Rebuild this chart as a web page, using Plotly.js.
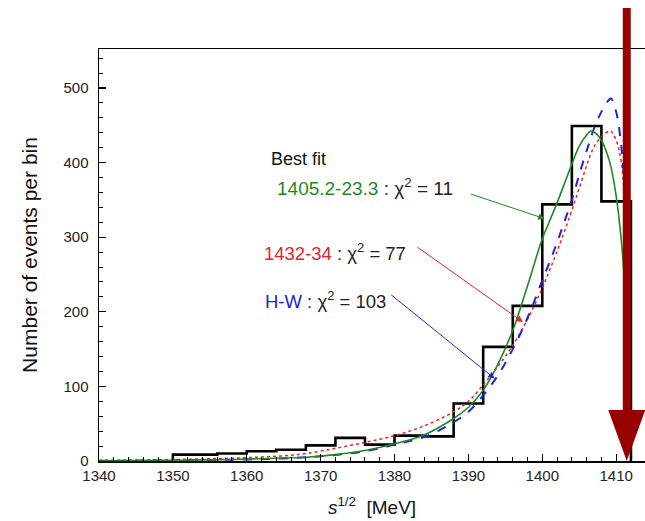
<!DOCTYPE html>
<html>
<head>
<meta charset="utf-8">
<script src="https://cdn.plot.ly/plotly-3.0.1.min.js"></script>
<style>html,body{margin:0;padding:0;background:#fff;}#chart{width:645px;height:521px;}</style>
</head>
<body>
<div id="chart"></div>
<script>
// Histogram (events per bin)
const binEdges = [1350, 1356, 1360, 1364, 1368, 1372, 1376, 1380, 1384, 1388, 1392, 1396, 1400, 1404, 1408, 1412];
const binCounts = [8.5, 10, 13, 15, 21, 31, 22, 34, 33, 77, 153, 208, 344, 449, 348];

// Fit curves sampled at these energies (MeV)
const curveX = [1340, 1345, 1350, 1355, 1360, 1365, 1368, 1372, 1376, 1380, 1384, 1388, 1390, 1392, 1394, 1396, 1398, 1400, 1401, 1402, 1403, 1404, 1405, 1406, 1406.5, 1407, 1408, 1409, 1409.3, 1410, 1410.7, 1411.2];
const greenFit = [0.3, 0.6, 1, 1.5, 2.5, 4, 5, 8.5, 14, 23, 35, 57, 72, 95, 130, 175, 235, 298, 322, 346, 372, 398, 422, 437, 442, 441, 430, 405, 394, 355, 295, 230];
const redFit   = [0.8, 1.3, 2, 3, 4.5, 7, 10, 17, 25, 34, 47, 66, 80, 102, 127, 155, 190, 232, 256, 281, 308, 336, 366, 396, 410, 421, 435, 442, 442, 430, 400, 340];
const blueFit  = [0.3, 0.5, 1, 1.5, 2, 3.5, 5, 8, 13, 22, 32, 52, 66, 88, 115, 150, 192, 242, 267, 293, 321, 350, 384, 416, 431, 446, 468, 484, 486, 468, 421, 360];

const arrowX = 1411.43;
const xTickVals = [1340, 1350, 1360, 1370, 1380, 1390, 1400, 1410];
const yTickVals = [0, 100, 200, 300, 400, 500];

const GREEN = '#1e8a1e', RED = '#e8222a', BLUE = '#2323d6', DARKRED = '#990000';
const FONT = 'Liberation Sans, Arial, sans-serif';

// Build step outline of histogram
const hx = [binEdges[0]], hy = [0];
for (let i = 0; i < binCounts.length; i++) { hx.push(binEdges[i]); hy.push(binCounts[i]); }
hx.push(binEdges[binEdges.length - 1]); hy.push(0);

const traces = [
  {x: hx, y: hy, type: 'scatter', mode: 'lines', line: {shape: 'hv', color: '#000', width: 2.6}, hoverinfo: 'skip'},
  {x: curveX, y: redFit, type: 'scatter', mode: 'lines', line: {color: RED, width: 1.5, dash: 'dot', shape: 'spline'}},
  {x: curveX, y: blueFit, type: 'scatter', mode: 'lines', line: {color: BLUE, width: 2, dash: 'dash', shape: 'spline'}},
  {x: curveX, y: greenFit, type: 'scatter', mode: 'lines', line: {color: GREEN, width: 1.6, shape: 'spline'}}
];

const layout = {
  width: 645, height: 521,
  margin: {l: 99, r: 0, t: 49, b: 60},
  paper_bgcolor: '#fff', plot_bgcolor: '#fff',
  showlegend: false,
  font: {family: FONT, color: '#222'},
  xaxis: {
    range: [1340, 1413.9], tickvals: xTickVals, ticks: 'inside', ticklen: 7, tickwidth: 1.2, tickcolor: '#000',
    minor: {dtick: 2, ticks: 'inside', ticklen: 4, tickwidth: 1, tickcolor: '#000'},
    showline: true, linecolor: '#000', linewidth: 1.5, mirror: true, showgrid: false, zeroline: false,
    tickfont: {size: 15, family: FONT, color: '#222'},
    title: {text: '<i>s</i><sup>1/2</sup>  [MeV]', font: {size: 19, family: FONT, color: '#111'}, standoff: 18}
  },
  yaxis: {
    range: [0, 552.3], tickvals: yTickVals, ticks: 'inside', ticklen: 7, tickwidth: 1.2, tickcolor: '#000',
    minor: {dtick: 20, ticks: 'inside', ticklen: 4, tickwidth: 1, tickcolor: '#000'},
    showline: true, linecolor: '#000', linewidth: 1.5, mirror: false, showgrid: false, zeroline: false,
    tickfont: {size: 15, family: FONT, color: '#222'}, ticklabelstandoff: 6,
    title: {text: 'Number of events per bin', font: {size: 21, family: FONT, color: '#111'}, standoff: 20}
  },
  annotations: [
    {xref: 'paper', yref: 'paper', x: 0.3114, y: 0.733, xanchor: 'left', yanchor: 'middle', showarrow: false,
     text: 'Best fit', font: {size: 18, family: FONT, color: '#111'}},
    {xref: 'paper', yref: 'paper', x: 0.3223, y: 0.665, xanchor: 'left', yanchor: 'middle', showarrow: false,
     text: '<span style="color:' + GREEN + '">1405.2-23.3</span> : χ<sup>2</sup> = 11', font: {size: 19, family: FONT, color: '#222'}},
    {xref: 'paper', yref: 'paper', x: 0.298, y: 0.508, xanchor: 'left', yanchor: 'middle', showarrow: false,
     text: '<span style="color:' + RED + '">1432-34</span> : χ<sup>2</sup> = 77', font: {size: 18.5, family: FONT, color: '#222'}},
    {xref: 'paper', yref: 'paper', x: 0.301, y: 0.391, xanchor: 'left', yanchor: 'middle', showarrow: false,
     text: '<span style="color:' + BLUE + '">H-W</span> : χ<sup>2</sup> = 103', font: {size: 18.5, family: FONT, color: '#222'}},
    {x: 1400.31, y: 324.9, xref: 'x', yref: 'y', text: '', showarrow: true, ax: -75, ay: -25,
     arrowcolor: GREEN, arrowwidth: 1, arrowhead: 2, arrowsize: 1.3},
    {x: 1397.37, y: 186.3, xref: 'x', yref: 'y', text: '', showarrow: true, ax: -107, ay: -76,
     arrowcolor: RED, arrowwidth: 1, arrowhead: 2, arrowsize: 1.3},
    {x: 1393.55, y: 110.5, xref: 'x', yref: 'y', text: '', showarrow: true, ax: -105, ay: -85,
     arrowcolor: BLUE, arrowwidth: 1, arrowhead: 2, arrowsize: 1.3}
  ],
  shapes: [
    {type: 'rect', xref: 'x', yref: 'paper', xsizemode: 'pixel', xanchor: arrowX, x0: -4, x1: 4,
     y0: 0.12, y1: 1.0995, fillcolor: DARKRED, line: {width: 0}, layer: 'above'},
    {type: 'path', xref: 'x', yref: 'y', xsizemode: 'pixel', ysizemode: 'pixel', xanchor: arrowX, yanchor: 0,
     path: 'M-18.5,51 L18.5,51 L0,0 Z', fillcolor: DARKRED, line: {width: 0}, layer: 'above'}
  ]
};

Plotly.newPlot('chart', traces, layout, {staticPlot: true, displayModeBar: false});
</script>
</body>
</html>
